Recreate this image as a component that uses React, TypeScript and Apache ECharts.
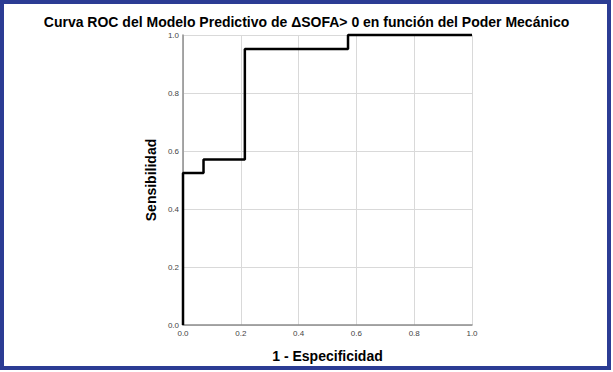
import React, { useEffect, useRef } from "react";
import * as echarts from "echarts";

const falsePositiveRate = [0, 0, 0.071, 0.071, 0.214, 0.214, 0.571, 0.571, 1.0];
const sensitivity = [0, 0.524, 0.524, 0.571, 0.571, 0.952, 0.952, 1.0, 1.0];
const tickValues = [0, 0.2, 0.4, 0.6, 0.8, 1.0];

const titleText = "Curva ROC del Modelo Predictivo de ΔSOFA> 0 en función del Poder Mecánico";
const xName = "1 - Especificidad";
const yName = "Sensibilidad";

export default function App() {
  const ref = useRef<HTMLDivElement>(null);
  useEffect(() => {
    if (!ref.current) return;
    const chart = echarts.init(ref.current, undefined, { renderer: "svg" });
    const font = "'Liberation Sans', Arial, sans-serif";
    chart.setOption({
      animation: false,
      backgroundColor: "#ffffff",
      title: {
        text: titleText,
        left: "center",
        top: 14,
        padding: 0,
        textStyle: { fontFamily: font, fontSize: 14, fontWeight: "bold", color: "#000", lineHeight: 15 },
      },
      grid: { left: 183, top: 35, width: 289, height: 290 },
      xAxis: {
        type: "value",
        min: 0,
        max: 1,
        interval: 0.2,
        name: xName,
        nameLocation: "middle",
        nameGap: 24,
        nameTextStyle: { fontFamily: font, fontSize: 14, fontWeight: "bold", color: "#000" },
        axisLine: { show: true, lineStyle: { color: "#8c8c8c", width: 1.5 } },
        axisTick: { show: false },
        axisLabel: {
          fontFamily: font,
          fontSize: 8,
          color: "#444",
          margin: 4,
          formatter: (v: number) => v.toFixed(1),
        },
        splitLine: { show: true, lineStyle: { color: "#d9d9d9", width: 1 } },
      },
      yAxis: {
        type: "value",
        min: 0,
        max: 1,
        interval: 0.2,
        name: yName,
        nameLocation: "middle",
        nameGap: 25,
        nameTextStyle: { fontFamily: font, fontSize: 14, fontWeight: "bold", color: "#000" },
        axisLine: { show: true, lineStyle: { color: "#8c8c8c", width: 1.5 } },
        axisTick: { show: false },
        axisLabel: {
          fontFamily: font,
          fontSize: 8,
          color: "#444",
          margin: 4,
          lineHeight: 8,
          formatter: (v: number) => (tickValues.includes(Math.round(v * 10) / 10) ? v.toFixed(1) : ""),
        },
        splitLine: { show: true, lineStyle: { color: "#d9d9d9", width: 1 } },
      },
      series: [
        {
          type: "line",
          data: falsePositiveRate.map((x, i) => [x, sensitivity[i]]),
          showSymbol: false,
          symbol: "none",
          lineStyle: { color: "#000", width: 2.5 },
          clip: false,
          z: 5,
        },
      ],
      graphic: [
        {
          type: "rect",
          shape: { x: 2, y: 2, width: 607, height: 366 },
          style: { fill: "none", stroke: "#2b3c94", lineWidth: 4 },
          z: 100,
        },
      ],
    });
    return () => chart.dispose();
  }, []);
  return (
    <div
      ref={ref}
      style={{ position: "fixed", left: 0, top: 0, width: 613, height: 372 }}
    />
  );
}
